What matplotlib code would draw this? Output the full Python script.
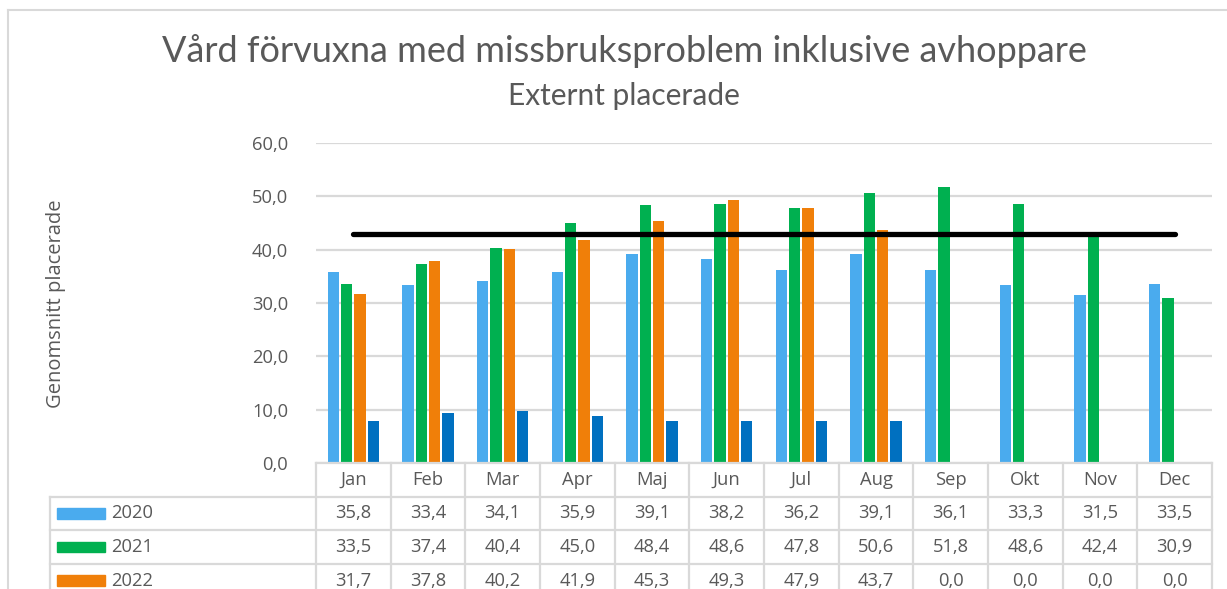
import matplotlib
matplotlib.use("Agg")
import matplotlib.pyplot as plt
from matplotlib.transforms import blended_transform_factory
from matplotlib.patches import Rectangle
from matplotlib.lines import Line2D

months = ["Jan", "Feb", "Mar", "Apr", "Maj", "Jun", "Jul", "Aug", "Sep", "Okt", "Nov", "Dec"]
s2020 = [35.8, 33.4, 34.1, 35.9, 39.1, 38.2, 36.2, 39.1, 36.1, 33.3, 31.5, 33.5]
s2021 = [33.5, 37.4, 40.4, 45.0, 48.4, 48.6, 47.8, 50.6, 51.8, 48.6, 42.4, 30.9]
s2022 = [31.7, 37.8, 40.2, 41.9, 45.3, 49.3, 47.9, 43.7, 0.0, 0.0, 0.0, 0.0]
s_other = [7.9, 9.4, 9.8, 8.9, 7.9, 7.9, 7.9, 7.9, 0.0, 0.0, 0.0, 0.0]
target = [42.9] * 12
series_names = ["2020", "2021", "2022"]
yticks = [0, 10, 20, 30, 40, 50, 60]

c2020 = "#4AABEE"
c2021 = "#00B050"
c2022 = "#F07F09"
cother = "#0070C0"
grid_c = "#D9D9D9"
text_c = "#595959"

W, H = 1227, 589
plt.rcParams['font.family'] = ['Open Sans', 'DejaVu Sans']
title_font = ['Lato', 'DejaVu Sans']
fs_small = 13.2
fig = plt.figure(figsize=(W / 100, H / 100), dpi=100)

def fx(px):
    return px / W

def fy(py):
    return 1 - py / H

# chart border
fig.add_artist(Line2D([fx(8), fx(8)], [fy(10), fy(600)], color=grid_c, lw=1.5))
fig.add_artist(Line2D([fx(8), fx(1240)], [fy(10), fy(10)], color=grid_c, lw=1.5))

ax_l, ax_r, ax_t, ax_b = 316, 1212, 143, 463
ax = fig.add_axes([fx(ax_l), fy(ax_b), (ax_r - ax_l) / W, (ax_b - ax_t) / H])
x = list(range(12))
ax.set_xlim(-0.5, 11.5)
ax.set_ylim(0, 60)

slot = 0.178
bw = 0.152
for k, (vals, col) in enumerate([(s2020, c2020), (s2021, c2021), (s2022, c2022), (s_other, cother)]):
    off = (k - 1.5) * slot
    ax.bar([i + off for i in x], vals, width=bw, color=col, zorder=3, linewidth=0)

ax.plot(x, target, color="black", lw=3.8, solid_capstyle="round", zorder=4)

ax.set_yticks(yticks)
ax.set_yticklabels([f"{v:.1f}".replace(".", ",") for v in yticks], color=text_c, fontsize=fs_small)
ax.tick_params(axis="y", length=0, pad=20)
ax.tick_params(axis="x", length=0, labelbottom=False)
ax.grid(axis="y", color=grid_c, lw=1.6, zorder=0)
for s in ax.spines.values():
    s.set_visible(False)
ax.set_axisbelow(True)

# titles
fig.text(fx(624), fy(51), "Vård förvuxna med missbruksproblem inklusive avhoppare",
         ha="center", va="center", fontsize=26, color=text_c, family=title_font)
fig.text(fx(624), fy(96), "Externt placerade", ha="center", va="center", fontsize=21.5,
         color=text_c, family=title_font)
fig.text(fx(56), fy(304), "Genomsnitt placerade", rotation=90, ha="center", va="center",
         fontsize=14.5, color=text_c)

# data table
tr = blended_transform_factory(ax.transData, fig.transFigure)
left_x = -0.5 - (ax_l - 50) / ((ax_r - ax_l) / 12)
row_y = [463, 496.5, 530, 563.5]
bottom = 610
lw_t = 1.6
fig.add_artist(Line2D([-0.5, 11.5], [fy(row_y[0])] * 2, color=grid_c, lw=lw_t, transform=tr))
for yy in row_y[1:]:
    fig.add_artist(Line2D([left_x, 11.5], [fy(yy)] * 2, color=grid_c, lw=lw_t, transform=tr))
for i in range(13):
    xx = i - 0.5
    fig.add_artist(Line2D([xx, xx], [fy(row_y[0]), fy(bottom)], color=grid_c, lw=lw_t, transform=tr))
fig.add_artist(Line2D([left_x, left_x], [fy(row_y[1]), fy(bottom)], color=grid_c, lw=lw_t, transform=tr))

for i, m in enumerate(months):
    fig.text(i, fy(480), m, transform=tr, ha="center", va="center", fontsize=fs_small, color=text_c)

rows = [s2020, s2021, s2022]
cols = [c2020, c2021, c2022]
centers = [513.5, 547, 580.5]
for name, vals, col, cy in zip(series_names, rows, cols, centers):
    fig.add_artist(Rectangle((fx(57), fy(cy + 5)), (105 - 57) / W, 10.5 / H,
                             transform=fig.transFigure, color=col))
    fig.text(fx(111), fy(cy), name, ha="left", va="center", fontsize=fs_small, color=text_c)
    for i, v in enumerate(vals):
        fig.text(i, fy(cy), f"{v:.1f}".replace(".", ","), transform=tr, ha="center",
                 va="center", fontsize=fs_small, color=text_c)

fig.savefig("out.png", dpi=100)
